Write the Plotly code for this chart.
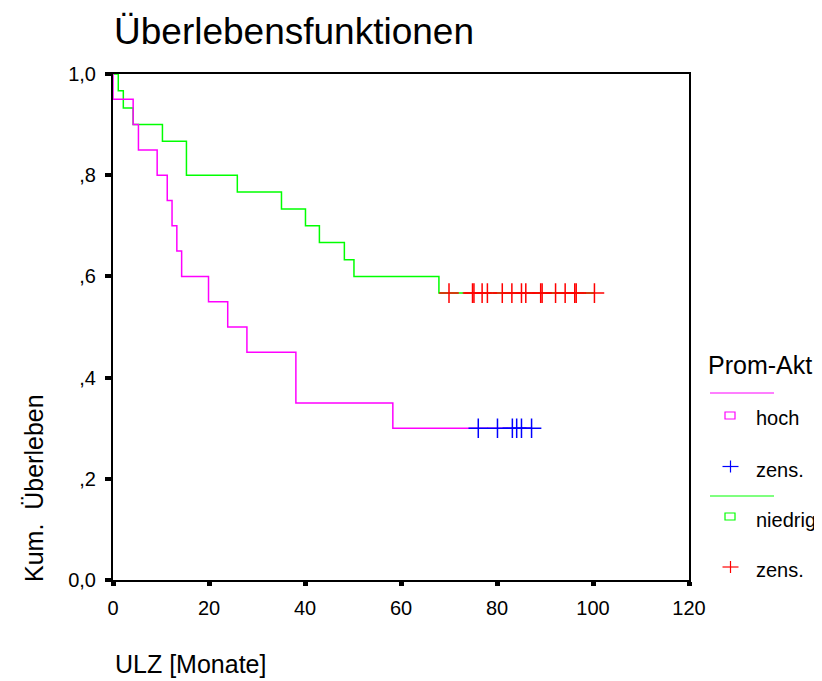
import plotly.graph_objects as go

# ---- data ----
hoch_event_times = [0.0, 4.2, 5.3, 9.2, 11.3, 12.3, 13.3, 14.3, 19.9, 23.9, 27.9, 38.1, 58.3]
hoch_survival = [0.95, 0.90, 0.85, 0.80, 0.75, 0.70, 0.65, 0.60, 0.55, 0.50, 0.45, 0.35, 0.30]
hoch_censored_times = [76.1, 80.1, 83.2, 84.1, 85.1, 87.2]

niedrig_event_times = [1.1, 2.15, 4.2, 10.3, 15.3, 25.9, 35.1, 40.1, 43.0, 48.2, 50.2, 67.9]
niedrig_survival = [0.967, 0.933, 0.90, 0.867, 0.80, 0.767, 0.733, 0.70, 0.667, 0.633, 0.60, 0.567]
niedrig_censored_times = [70.0, 74.9, 75.2, 76.9, 78.0, 81.1, 83.1, 85.1, 86.0, 89.1, 89.4,
                          92.2, 94.2, 96.2, 96.5, 100.3]

x_tick_vals = [0, 20, 40, 60, 80, 100, 120]
y_tick_vals = [0.0, 0.2, 0.4, 0.6, 0.8, 1.0]
y_tick_text = ["0,0", ",2", ",4", ",6", ",8", "1,0"]

FONT = "Liberation Sans, Arial, sans-serif"
MAGENTA, GREEN, BLUE, RED = "#FF00FF", "#00FF00", "#0000FF", "#FF0000"

W, H = 822, 681
OFF = 8  # page body margin of the html page
L, R, T, B = 113, 689, 74, 580  # plot area on screen


def px(x):
    return (x - L) / (R - L)


def py(y):
    return (B - y) / (B - T)


def step_xy(times, surv, censored):
    xs = [0.0] + list(times) + [max(censored)]
    ys = [1.0] + list(surv) + [surv[-1]]
    return xs, ys


fig = go.Figure()

hx, hy = step_xy(hoch_event_times, hoch_survival, hoch_censored_times)
nx, ny = step_xy(niedrig_event_times, niedrig_survival, niedrig_censored_times)

fig.add_trace(go.Scatter(x=nx, y=ny, mode="lines", line=dict(color=GREEN, width=1.5, shape="hv"),
                         cliponaxis=False, showlegend=False))
fig.add_trace(go.Scatter(x=hx, y=hy, mode="lines", line=dict(color=MAGENTA, width=1.5, shape="hv"),
                         cliponaxis=False, showlegend=False))
fig.add_trace(go.Scatter(x=hoch_censored_times, y=[hoch_survival[-1]] * len(hoch_censored_times),
                         mode="markers",
                         marker=dict(symbol="cross-thin", size=14, line=dict(color=BLUE, width=1.5)),
                         showlegend=False))
fig.add_trace(go.Scatter(x=niedrig_censored_times, y=[niedrig_survival[-1]] * len(niedrig_censored_times),
                         mode="markers",
                         marker=dict(symbol="cross-thin", size=14, line=dict(color=RED, width=1.5)),
                         showlegend=False))

shapes = []
annotations = []

# title and axis labels
annotations.append(dict(text="Überlebensfunktionen", xref="paper", yref="paper", x=px(112), y=py(31),
                        xanchor="left", yanchor="middle", showarrow=False,
                        font=dict(family=FONT, size=37, color="black")))
annotations.append(dict(text="ULZ [Monate]", xref="paper", yref="paper", x=px(113), y=py(664),
                        xanchor="left", yanchor="middle", showarrow=False,
                        font=dict(family=FONT, size=25, color="black")))
annotations.append(dict(text="Kum.  Überleben", xref="paper", yref="paper", x=px(34), y=py(584),
                        xanchor="center", yanchor="bottom", textangle=-90, showarrow=False,
                        font=dict(family=FONT, size=25, color="black")))

# legend (drawn manually like SPSS)
annotations.append(dict(text="Prom-Akt", xref="paper", yref="paper", x=px(706), y=py(365),
                        xanchor="left", yanchor="middle", showarrow=False,
                        font=dict(family=FONT, size=25, color="black")))
legend_items = [
    ("hoch", 418), ("zens.", 470), ("niedrig", 520), ("zens.", 570),
]
for txt, yy in legend_items:
    annotations.append(dict(text=txt, xref="paper", yref="paper", x=px(754), y=py(yy),
                            xanchor="left", yanchor="middle", showarrow=False,
                            font=dict(family=FONT, size=20, color="black")))

shapes.append(dict(type="line", xref="paper", yref="paper", x0=px(710), x1=px(774), y0=py(393), y1=py(393),
                   line=dict(color=MAGENTA, width=1.2)))
shapes.append(dict(type="line", xref="paper", yref="paper", x0=px(710), x1=px(774), y0=py(496), y1=py(496),
                   line=dict(color=GREEN, width=1.2)))
shapes.append(dict(type="rect", xref="paper", yref="paper", x0=px(725), x1=px(735), y0=py(412), y1=py(419),
                   line=dict(color=MAGENTA, width=1.2)))
shapes.append(dict(type="rect", xref="paper", yref="paper", x0=px(725), x1=px(735), y0=py(513), y1=py(520),
                   line=dict(color=GREEN, width=1.2)))
for cx, cy, col in [(730.5, 466.5, BLUE), (730.5, 567, RED)]:
    shapes.append(dict(type="line", xref="paper", yref="paper", x0=px(cx - 8), x1=px(cx + 8),
                       y0=py(cy), y1=py(cy), line=dict(color=col, width=1.2)))
    shapes.append(dict(type="line", xref="paper", yref="paper", x0=px(cx), x1=px(cx),
                       y0=py(cy - 6), y1=py(cy + 6), line=dict(color=col, width=1.2)))

fig.update_layout(
    width=W, height=H,
    margin=dict(l=L - OFF, r=W - (R - OFF), t=T - OFF, b=H - (B - OFF), pad=0),
    paper_bgcolor="white", plot_bgcolor="white",
    showlegend=False,
    shapes=shapes, annotations=annotations,
    font=dict(family=FONT, color="black"),
)
fig.update_xaxes(range=[0, 120], tickvals=x_tick_vals, ticks="outside", ticklen=4, tickwidth=5,
                 tickcolor="black", showgrid=False, zeroline=False, showline=True, linecolor="black",
                 linewidth=2, mirror=True, tickfont=dict(family=FONT, size=20, color="black"),
                 ticklabelstandoff=5)
fig.update_yaxes(range=[0, 1.0], tickvals=y_tick_vals, ticktext=y_tick_text, ticks="outside", ticklen=6,
                 tickwidth=4, tickcolor="black", showgrid=False, zeroline=False, showline=True,
                 linecolor="black", linewidth=2, mirror=True,
                 tickfont=dict(family=FONT, size=20, color="black"), ticklabelstandoff=5)

fig.write_html("out.html")
